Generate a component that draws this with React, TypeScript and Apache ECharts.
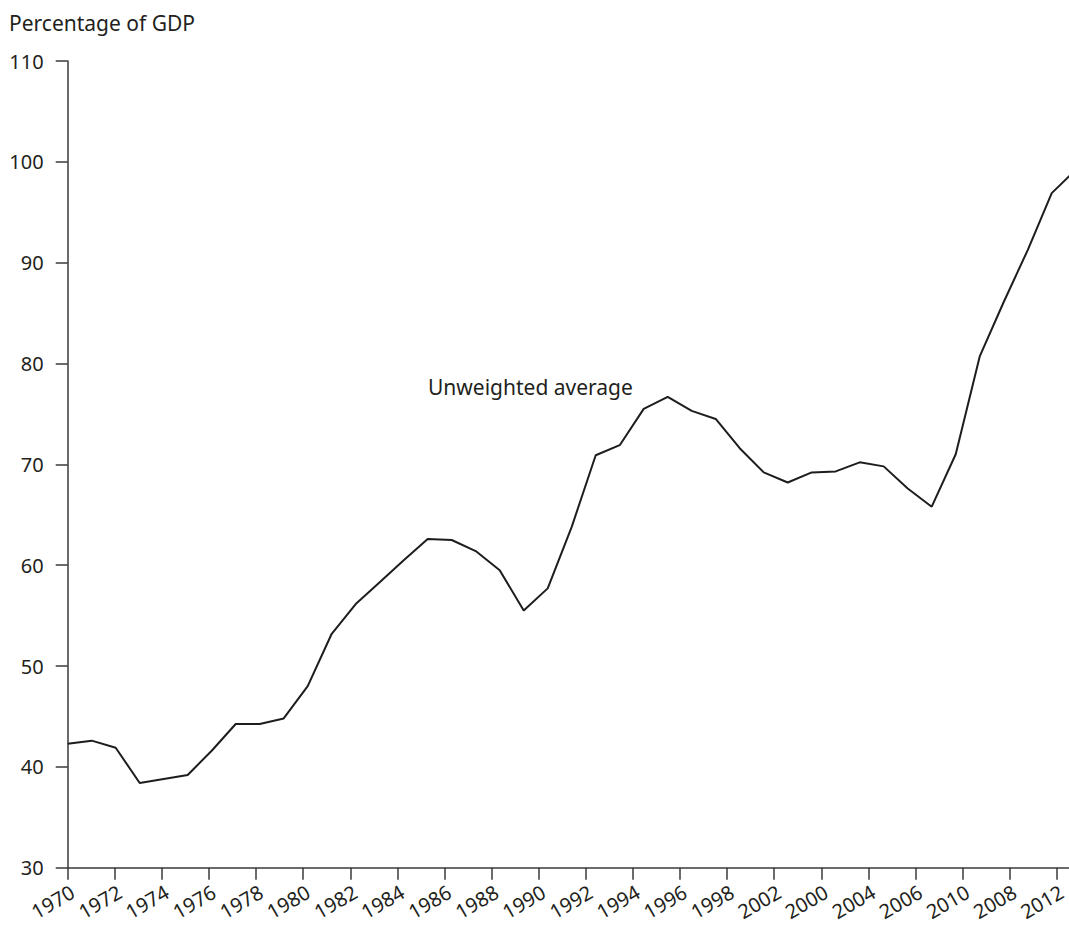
import React, { useEffect, useRef } from "react";
import * as echarts from "echarts";

const tickYears = [1970,1972,1974,1976,1978,1980,1982,1984,1986,1988,1990,1992,1994,1996,1998,2000,2002,2004,2006,2008,2010,2012];
const tickLabels = ["1970","1972","1974","1976","1978","1980","1982","1984","1986","1988","1990","1992","1994","1996","1998","2002","2000","2004","2006","2010","2008","2012"];
const years = [1970,1971,1972,1973,1974,1975,1976,1977,1978,1979,1980,1981,1982,1983,1984,1985,1986,1987,1988,1989,1990,1991,1992,1993,1994,1995,1996,1997,1998,1999,2000,2001,2002,2003,2004,2005,2006,2007,2008,2009,2010,2011,2012];
const values = [42.3,42.6,41.9,38.4,38.8,39.2,41.6,44.25,44.25,44.8,48.0,53.2,56.15,58.3,60.5,62.6,62.5,61.4,59.5,55.5,57.7,63.8,70.9,71.9,75.5,76.7,75.3,74.5,71.6,69.2,68.2,69.2,69.3,70.2,69.8,67.6,65.8,71.0,80.7,86.1,91.25,96.9,99.2];
const seriesName = "Unweighted average";
const yTitle = "Percentage of GDP";

const FONT = "Noto Sans";
const TXT = "#231f20";
const FS = 21;
const FS_TICK = 20;

export default function App() {
  const ref = useRef<HTMLDivElement>(null);
  useEffect(() => {
    if (!ref.current) return;
    const chart = echarts.init(ref.current, null, { renderer: "svg" });
    chart.setOption({
      animation: false,
      backgroundColor: "#ffffff",
      grid: { left: 67.7, right: 0, top: 61, bottom: 59.3, containLabel: false, outerBoundsMode: "none" },
      title: {
        text: yTitle,
        left: 4,
        top: 7,
        textStyle: { fontFamily: FONT, fontSize: FS, fontWeight: "normal", color: TXT },
      },
      xAxis: [
        {
          type: "value",
          min: 1970,
          max: 2012.52,
          position: "bottom",
          axisLine: { show: true, lineStyle: { color: "#3a3a3a", width: 1.5 } },
          axisTick: { show: true, length: 12, inside: false, customValues: tickYears, lineStyle: { color: "#3a3a3a", width: 1.5 } },
          axisLabel: {
            show: true,
            customValues: tickYears,
            rotate: 30,
            margin: 14,
            align: "right",
            verticalAlign: "top",
            fontFamily: FONT,
            fontSize: FS_TICK,
            lineHeight: 20,
            color: TXT,
            formatter: (v: number) => {
              const i = tickYears.indexOf(Math.round(v));
              return i >= 0 ? tickLabels[i] : "";
            },
          },
          splitLine: { show: false },
        },
        {
          type: "value",
          min: 1970,
          max: 2011.72,
          show: false,
          splitLine: { show: false },
        },
      ],
      yAxis: {
        type: "value",
        min: 30,
        max: 110,
        interval: 10,
        axisLine: { show: true, lineStyle: { color: "#3a3a3a", width: 1.5 } },
        axisTick: { show: true, length: 12, inside: false, lineStyle: { color: "#3a3a3a", width: 1.5 } },
        axisLabel: { margin: 24, fontFamily: FONT, fontSize: FS_TICK, color: TXT },
        splitLine: { show: false },
      },
      graphic: [
        {
          type: "text",
          left: 428,
          top: 376,
          style: { text: seriesName, fontFamily: FONT, fontSize: FS, fill: TXT },
        },
      ],
      series: [
        {
          type: "line",
          name: seriesName,
          xAxisIndex: 1,
          data: years.map((y, i) => [y, values[i]]),
          showSymbol: false,
          symbol: "none",
          clip: true,
          lineStyle: { color: "#1f1c1d", width: 2 },
        },
      ],
    });
    return () => chart.dispose();
  }, []);
  return <div ref={ref} style={{ position: "fixed", left: 0, top: 0, width: 1069, height: 927 }} />;
}
